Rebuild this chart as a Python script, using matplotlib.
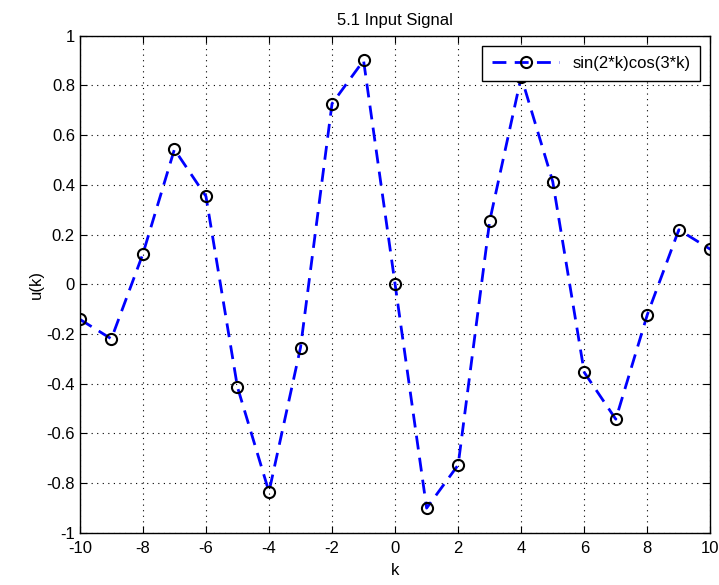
import numpy as np
import matplotlib.pyplot as plt

plt.rcParams['font.family'] = ['Liberation Sans', 'DejaVu Sans']
plt.rcParams['axes.unicode_minus'] = False

k = list(range(-10, 11))
u = [-0.1408, -0.2194, 0.1221, 0.5426, 0.3543, -0.4133, -0.8349, -0.2546, 0.7266, 0.9002,
     0.0,
     -0.9002, -0.7266, 0.2546, 0.8349, 0.4133, -0.3543, -0.5426, -0.1221, 0.2194, 0.1408]

fig = plt.figure(figsize=(7.19, 5.85), dpi=100)
ax = fig.add_axes([0.111, 0.089, 0.877, 0.85])

ax.plot(k, u, '--', color='#0000ff', linewidth=2, dashes=(5, 3),
        marker='o', markersize=8, markerfacecolor='none', markeredgecolor='black',
        markeredgewidth=1.5, label='sin(2*k)cos(3*k)')

ax.set_xlim(-10, 10)
ax.set_ylim(-1, 1)
ax.set_xticks(range(-10, 11, 2))
ax.set_yticks(np.round(np.arange(-1, 1.01, 0.2), 1))
ax.set_yticklabels(['-1', '-0.8', '-0.6', '-0.4', '-0.2', '0', '0.2', '0.4', '0.6', '0.8', '1'])
ax.grid(True, linestyle=(0, (1, 4)), color='black', linewidth=0.8)
ax.tick_params(direction='in', top=True, right=True, labelsize=12, length=5)
ax.tick_params(axis='x', pad=6)
for s in ax.spines.values():
    s.set_linewidth(1)

ax.set_title('5.1 Input Signal', fontsize=12, pad=8)
ax.set_xlabel('k', fontsize=12, labelpad=5)
ax.set_ylabel('u(k)', fontsize=12, labelpad=2)

leg = ax.legend(loc='upper right', fontsize=12, fancybox=False, framealpha=1,
                edgecolor='black', handlelength=4, borderaxespad=0.6,
                borderpad=0.6)
leg.get_frame().set_linewidth(1)

fig.savefig('out.png', dpi=100)
